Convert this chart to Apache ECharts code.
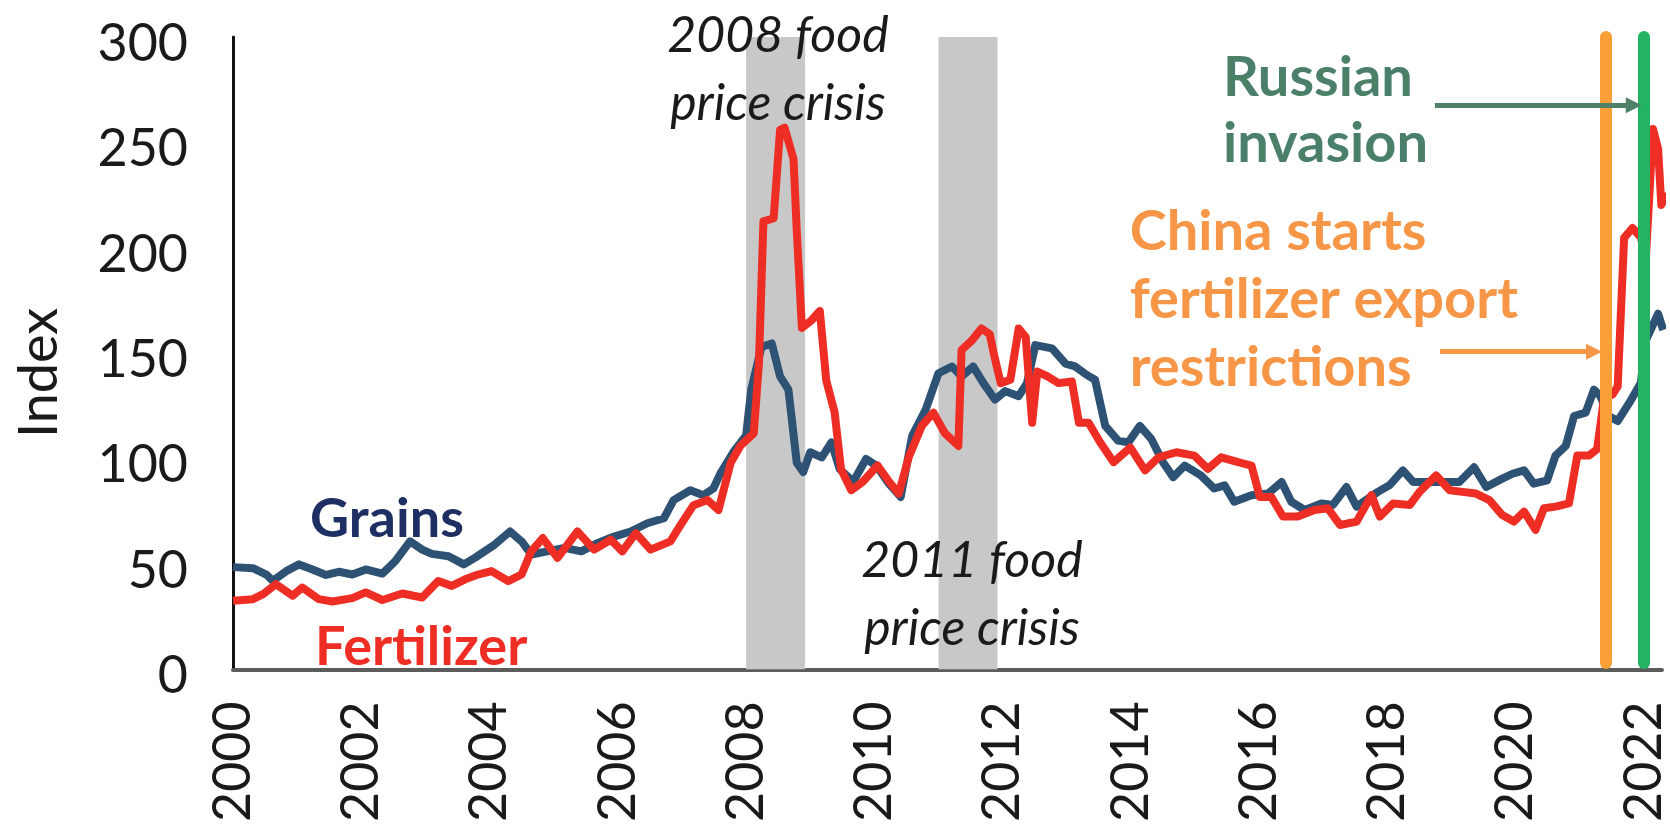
<!DOCTYPE html>
<html>
<head>
<meta charset="utf-8">
<script src="https://cdn.jsdelivr.net/npm/echarts@6/dist/echarts.min.js"></script>
<style>
  html, body { margin: 0; padding: 0; background: #fff; }
  #chart { width: 1670px; height: 825px; }
</style>
</head>
<body>
<div id="chart"></div>
<script>
// values (fractional years)
const grainsX = [2000.00, 2000.31, 2000.52, 2000.62, 2000.83, 2001.03, 2001.24, 2001.45, 2001.65, 2001.86,
  2002.07, 2002.33, 2002.53, 2002.76, 2002.95, 2003.10, 2003.36, 2003.60, 2003.77, 2004.08,
  2004.32, 2004.50, 2004.65, 2004.90, 2005.17, 2005.43, 2005.69, 2005.94, 2006.20, 2006.46,
  2006.72, 2006.87, 2007.13, 2007.33, 2007.49, 2007.60, 2007.80, 2008.00, 2008.08, 2008.24,
  2008.40, 2008.53, 2008.66, 2008.79, 2008.89, 2009.00, 2009.18, 2009.33, 2009.46, 2009.67,
  2009.87, 2010.03, 2010.23, 2010.41, 2010.59, 2010.80, 2011.00, 2011.21, 2011.36, 2011.54,
  2011.70, 2011.88, 2012.04, 2012.25, 2012.38, 2012.51, 2012.77, 2012.98, 2013.13, 2013.31,
  2013.44, 2013.60, 2013.80, 2013.96, 2014.14, 2014.32, 2014.50, 2014.66, 2014.84, 2015.09,
  2015.30, 2015.46, 2015.61, 2015.88, 2016.14, 2016.35, 2016.50, 2016.71, 2016.97, 2017.15,
  2017.36, 2017.52, 2017.85, 2018.03, 2018.24, 2018.40, 2018.66, 2018.86, 2019.12, 2019.35,
  2019.54, 2019.79, 2019.95, 2020.13, 2020.28, 2020.49, 2020.62, 2020.78, 2020.91, 2021.09,
  2021.22, 2021.32, 2021.45, 2021.59, 2021.77, 2021.95, 2022.03, 2022.22, 2022.30];
const grainsY = [48.5, 48, 45, 42, 46.6, 49.8, 47.4, 44.8, 46.3, 45,
  47.4, 45.4, 51.3, 60.7, 56.8, 54.8, 53.7, 49.8, 52.9, 59.2,
  65.4, 60.7, 54.5, 56, 57.6, 56, 60, 63, 65.4, 69.3,
  71.7, 80.3, 85, 82.6, 85.8, 93, 103, 111, 132.7, 153,
  154.6, 139, 132.7, 98, 93.6, 103, 100.6, 107.7, 95, 89,
  99.8, 96.7, 88, 81.8, 110.8, 123.3, 140.5, 143.7, 139, 143.7,
  135.8, 128, 132, 129.6, 135.8, 153.8, 152.3, 145, 143.7, 139.7,
  137.4, 115.5, 108.5, 107.7, 115.5, 109.2, 98.3, 91.2, 96.7, 92,
  85.8, 87.3, 79.5, 82.6, 83.4, 88.9, 79.5, 75.6, 78.7, 78,
  86.5, 77.2, 84.2, 87.3, 94.4, 88.9, 88.9, 88.9, 88.9, 95.9,
  86.5, 90.5, 92.8, 94.4, 88.1, 89.7, 101.4, 106, 120.2, 121.8,
  132.7, 129.6, 120.2, 117.8, 126.4, 135.8, 156.2, 168.7, 161];

const fertX = [2000.00, 2000.31, 2000.47, 2000.67, 2000.93, 2001.08, 2001.34, 2001.55, 2001.86, 2002.07,
  2002.33, 2002.64, 2002.95, 2003.20, 2003.41, 2003.62, 2003.82, 2004.03, 2004.29, 2004.50,
  2004.65, 2004.83, 2005.06, 2005.37, 2005.63, 2005.89, 2006.07, 2006.28, 2006.51, 2006.82,
  2006.98, 2007.18, 2007.40, 2007.57, 2007.76, 2007.91, 2008.12, 2008.20, 2008.27, 2008.43,
  2008.53, 2008.60, 2008.74, 2008.79, 2008.87, 2009.02, 2009.15, 2009.25, 2009.38, 2009.48,
  2009.64, 2009.82, 2010.05, 2010.23, 2010.38, 2010.54, 2010.74, 2010.92, 2011.10, 2011.31,
  2011.36, 2011.52, 2011.67, 2011.80, 2011.86, 2011.97, 2012.12, 2012.25, 2012.36, 2012.46,
  2012.54, 2012.70, 2012.87, 2013.08, 2013.19, 2013.34, 2013.52, 2013.73, 2013.99, 2014.22,
  2014.43, 2014.71, 2014.99, 2015.20, 2015.41, 2015.67, 2015.88, 2016.01, 2016.19, 2016.37,
  2016.60, 2016.86, 2017.07, 2017.26, 2017.52, 2017.75, 2017.88, 2018.09, 2018.35, 2018.50,
  2018.76, 2018.97, 2019.17, 2019.38, 2019.59, 2019.79, 2019.97, 2020.13, 2020.31, 2020.44,
  2020.62, 2020.83, 2020.96, 2021.14, 2021.27, 2021.38, 2021.51, 2021.59, 2021.69, 2021.82,
  2021.95, 2022.03, 2022.14, 2022.22, 2022.27, 2022.35];
const fertY = [32.5, 33.3, 35.7, 40.4, 34.9, 38.8, 33.3, 32.2, 33.8, 36.5,
  32.9, 36, 34.1, 41.9, 39.6, 42.7, 45, 46.6, 41.9, 45,
  56, 62.3, 52.9, 65.4, 56.8, 61.5, 56, 64.6, 56.8, 60.7,
  68.5, 77.9, 80.3, 75.6, 98, 106, 112, 145, 212.5, 214,
  256, 257, 242, 208, 162, 165.6, 170, 137, 122, 95,
  85, 89, 96.7, 89, 83.4, 101, 115.5, 121.8, 112, 106,
  151.5, 156, 161.7, 159, 150, 135.8, 137.4, 161.7, 157.7, 117,
  141.3, 139, 135.8, 136.6, 117, 117, 107.7, 98.3, 105.3, 94.4,
  100.6, 103, 101.4, 95.1, 100.6, 98.3, 96.7, 81.8, 81.8, 72.5,
  72.5, 75.6, 76.4, 68.5, 70.1, 82.6, 72.5, 78.7, 78, 84.2,
  92, 85, 84.2, 83.4, 80.3, 73.2, 70.1, 74.8, 66.2, 76.4,
  77.2, 78.7, 101.4, 101.4, 104.5, 129.6, 130.4, 134.3, 204.7, 209.4,
  205, 195.3, 256.3, 247, 220.3, 226];

const crisisBands = [[2008.0, 2008.92], [2011.0, 2011.92]];
const chinaRestrictions = 2021.4;
const russianInvasion = 2022.0;
const yTicks = { min: 0, max: 300, step: 50 };
// the picture is cut at the right edge a little after 2022
const xTicks = { min: 2000, max: 2022.28, step: 2, lastLabel: 2022 };

const zip = (xs, ys) => xs.map((x, i) => [x, ys[i]]);

const chart = echarts.init(document.getElementById('chart'));

// measure label widths so their right edges sit where the reference has them
const ctx = document.createElement('canvas').getContext('2d');
function textW(font, s) { ctx.font = font; return ctx.measureText(s).width; }
const noteFont = 'bold 56px Lato';
const greenLeft = 1428 - textW(noteFont, 'invasion');
const orangeLeft = 1518 - textW(noteFont, 'fertilizer export');

const option = {
  animation: false,
  backgroundColor: '#fff',
  grid: { left: 233, right: 0, top: 37, bottom: 149 },
  xAxis: {
    type: 'value',
    min: xTicks.min,
    max: xTicks.max,
    interval: xTicks.step,
    axisLine: { show: true, lineStyle: { color: '#5c5c5c', width: 4 } },
    axisTick: { show: false },
    splitLine: { show: false },
    axisLabel: {
      rotate: 90,
      margin: 32,
      fontFamily: 'Lato',
      fontSize: 52,
      color: '#1a1a1a',
      showMaxLabel: false,
      formatter: v => (v <= xTicks.lastLabel && v % 2 === 0 ? String(v) : '')
    }
  },
  yAxis: {
    type: 'value',
    min: yTicks.min,
    max: yTicks.max,
    interval: yTicks.step,
    axisLine: { show: true, lineStyle: { color: '#111', width: 3 } },
    axisTick: { show: false },
    splitLine: { show: false },
    axisLabel: {
      margin: 45,
      fontFamily: 'Lato',
      fontSize: 52,
      color: '#1a1a1a',
      verticalAlign: 'top',
      lineHeight: 14
    }
  },
  series: [
    {
      name: 'annotations',
      type: 'line',
      data: [],
      silent: true,
      markArea: {
        silent: true,
        itemStyle: { color: '#c8c8c8' },
        label: { show: false },
        data: crisisBands.map(b => [{ xAxis: b[0], yAxis: yTicks.max }, { xAxis: b[1], yAxis: yTicks.min }])
      },
      markLine: {
        silent: true,
        symbol: ['none', 'none'],
        label: { show: false },
        data: [
          [{ coord: [chinaRestrictions, 3], lineStyle: { color: '#f8a037', width: 12, type: 'solid', cap: 'round' } },
           { coord: [chinaRestrictions, 300] }],
          [{ coord: [russianInvasion, 3], lineStyle: { color: '#22b463', width: 12, type: 'solid', cap: 'round' } },
           { coord: [russianInvasion, 300] }],
          [{ coord: [2018.74, 267.6], symbol: 'none', lineStyle: { color: '#4f8068', width: 5, type: 'solid' } },
           { coord: [2021.84, 267.6], symbol: 'triangle', symbolSize: [16, 16] }],
          [{ coord: [2018.82, 150.7], symbol: 'none', lineStyle: { color: '#f79646', width: 5, type: 'solid' } },
           { coord: [2021.22, 150.7], symbol: 'triangle', symbolSize: [16, 16] }]
        ]
      }
    },
    {
      name: 'Grains',
      type: 'line',
      data: zip(grainsX, grainsY),
      showSymbol: false,
      symbol: 'none',
      lineStyle: { color: '#2e5274', width: 8, join: 'round' }
    },
    {
      name: 'Fertilizer',
      type: 'line',
      data: zip(fertX, fertY),
      showSymbol: false,
      symbol: 'none',
      lineStyle: { color: '#ee2e24', width: 8, join: 'round' }
    }
  ],
  graphic: [
    {
      type: 'text', x: 40, y: 373, rotation: Math.PI / 2, z: 100,
      style: { text: 'Index', font: '54px Lato', fill: '#1a1a1a', textAlign: 'center', textVerticalAlign: 'middle' }
    },
    {
      type: 'text', x: 778, y: 2, z: 100,
      style: { text: '2008 food\nprice crisis', font: 'italic 50px Lato', fill: '#1a1a1a',
        textAlign: 'center', textVerticalAlign: 'top', lineHeight: 68 }
    },
    {
      type: 'text', x: 972, y: 527, z: 100,
      style: { text: '2011 food\nprice crisis', font: 'italic 50px Lato', fill: '#1a1a1a',
        textAlign: 'center', textVerticalAlign: 'top', lineHeight: 68 }
    },
    {
      type: 'text', x: 310, y: 520, z: 100,
      style: { text: 'Grains', font: 'bold 54px Lato', fill: '#1e2f63', textAlign: 'left', textVerticalAlign: 'middle' }
    },
    {
      type: 'text', x: 315, y: 648, z: 100,
      style: { text: 'Fertilizer', font: 'bold 54px Lato', fill: '#ee2e24', textAlign: 'left', textVerticalAlign: 'middle' }
    },
    {
      type: 'text', x: greenLeft, y: 45, z: 100,
      style: { text: 'Russian\ninvasion', font: noteFont, fill: '#4a806a',
        textAlign: 'left', textVerticalAlign: 'top', lineHeight: 66 }
    },
    {
      type: 'text', x: orangeLeft, y: 198, z: 100,
      style: { text: 'China starts\nfertilizer export\nrestrictions', font: noteFont, fill: '#f79646',
        textAlign: 'left', textVerticalAlign: 'top', lineHeight: 68 }
    }
  ]
};

chart.setOption(option);
</script>
</body>
</html>
